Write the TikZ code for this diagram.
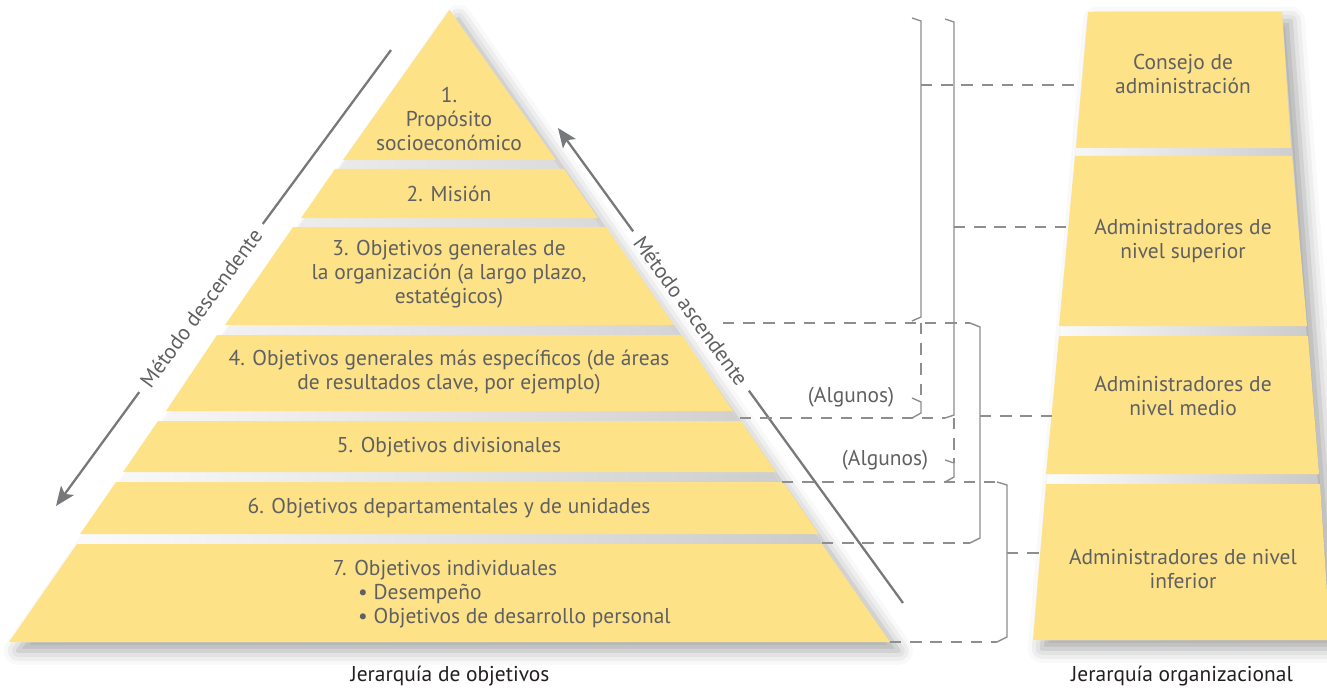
\documentclass[tikz,border=0pt]{standalone}
\usepackage{fontspec}
\setmainfont{PT Sans}
\usetikzlibrary{arrows.meta,shadows.blur}

\definecolor{piryel}{HTML}{FDE288}
\definecolor{txtgray}{HTML}{5F6062}
\definecolor{lngray}{HTML}{8E8E8E}
\definecolor{arrgray}{HTML}{77787B}
\definecolor{capblack}{HTML}{231F20}

\begin{document}
\begin{tikzpicture}[x=0.02cm, y=-0.02cm, font=\fontsize{12.2}{13.7}\selectfont]
\tikzset{
  lvl/.style={fill=piryel},
  bgd/.style={left color=white, middle color=black!20, right color=black!22,
    blur shadow={shadow xshift=5pt, shadow yshift=-5pt, shadow blur radius=8pt, shadow opacity=35}},
  txt/.style={text=txtgray, align=center},
  captxt/.style={text=capblack},
  brk/.style={draw=lngray, line width=0.8pt},
  dsh/.style={draw=lngray, line width=0.8pt, dash pattern=on 6.5pt off 5pt},
  arr/.style={draw=arrgray, line width=1.3pt},
  arrh/.style={arr, -{Stealth[length=11pt, width=9pt, inset=2.5pt]}}}

\useasboundingbox (0,0) rectangle (1327,689);

% ---------------- pyramid: hierarchy of objectives ----------------
\path[bgd] (449.5,10) -- (890,642) -- (9,642) -- cycle;
\fill[lvl] (449.5,10) -- (556,160) -- (343,160) -- cycle;
\fill[lvl] (335,169) -- (564,169) -- (598,218) -- (301,218) -- cycle;
\fill[lvl] (293,227) -- (606,227) -- (674,325) -- (225,325) -- cycle;
\fill[lvl] (217,335) -- (682,335) -- (733,411) -- (166,411) -- cycle;
\fill[lvl] (158,421) -- (741,421) -- (776,472) -- (123,472) -- cycle;
\fill[lvl] (116,482) -- (783,482) -- (819,534) -- (80,534) -- cycle;
\fill[lvl] (77,544) -- (822,544) -- (890,642) -- (9,642) -- cycle;

\node[txt] (lv1) at (449,119) {1.\\Propósito\\socioeconómico};
\node[txt] (lv2) at (449,194) {2. Misión};
\node[txt] (lv3) at (449,274) {3. Objetivos generales de\\la organización (a largo plazo,\\estatégicos)};
\node[txt] (lv4) at (449,372) {4. Objetivos generales más específicos (de áreas\\de resultados clave, por ejemplo)};
\node[txt] (lv5) at (449,447) {5. Objetivos divisionales};
\node[txt] (lv6) at (449,508) {6. Objetivos departamentales y de unidades};
\node[txt] (lv7) at (445,570) {7. Objetivos individuales};
\node[txt, align=left, anchor=west] (lv7b) at (352,606) {• Desempeño\\• Objetivos de desarrollo personal};

\node[captxt] (capobj) at (450,676) {Jerarquía de objetivos};

% ---------------- top-down and bottom-up arrows ----------------
\coordinate (des-s) at (391,50);
\coordinate (des-e) at (56,506);
\node[txt, rotate=53.7, inner sep=5pt] (des) at (201,308) {Método descendente};
\draw[arr] (des-s) -- (des.east);
\draw[arrh] (des.west) -- (des-e);

\coordinate (asc-s) at (903,603);
\coordinate (asc-e) at (558,128);
\node[txt, rotate=-54, inner sep=5pt] (asc) at (691,311) {Método ascendente};
\draw[arr] (asc-s) -- (asc.east);
\draw[arrh] (asc.west) -- (asc-e);

% ---------------- column: organizational hierarchy ----------------
\path[bgd] (1088,12) -- (1282,12) -- (1330,640) -- (1033,640) -- cycle;
\fill[lvl] (1088,12) -- (1282,12) -- (1291,148) -- (1076,148) -- cycle;
\fill[lvl] (1075,156) -- (1292,156) -- (1307,326) -- (1059,326) -- cycle;
\fill[lvl] (1059,336) -- (1308,336) -- (1319,474) -- (1046,474) -- cycle;
\fill[lvl] (1046,484) -- (1320,484) -- (1330,640) -- (1033,640) -- cycle;

\node[txt] (org1) at (1183,74) {Consejo de\\administración};
\node[txt] (org2) at (1183,241) {Administradores de\\nivel superior};
\node[txt] (org3) at (1183,396) {Administradores de\\nivel medio};
\node[txt] (org4) at (1183,569) {Administradores de nivel\\inferior};

\node[captxt] (caporg) at (1182,676) {Jerarquía organizacional};

% ---------------- brackets ----------------
\draw[brk] (912,18) -- (921,21) -- (921,85) coordinate (a-mid) -- (921,317) -- (912,321);
\draw[brk] (945,19) -- (954,22) -- (954,227) coordinate (b-mid) -- (954,415) -- (945,418) coordinate (b-bot);
\draw[brk] (970,323) coordinate (c-top) -- (980,327) -- (980,416) coordinate (c-mid) -- (980,538) -- (970,543) coordinate (c-bot);
\draw[brk] (912,398) -- (921,402) coordinate (d-top) -- (921,413) -- (912,418);
\draw[brk] (945,460) -- (954,463) coordinate (e-top) -- (954,477) -- (945,482);
\draw[brk] (997,482) coordinate (f-top) -- (1007,485) -- (1007,553) coordinate (f-mid) -- (1007,637) -- (997,642) coordinate (f-bot);

\node[txt] (alg1) at (851,397) {(Algunos)};
\node[txt] (alg2) at (885,460) {(Algunos)};

% ---------------- dashed links ----------------
\coordinate (g34) at (723,323);
\coordinate (g45) at (740,418);
\coordinate (g56) at (782,482);
\coordinate (g67) at (822,543);
\coordinate (g7) at (890,642);
\coordinate (d-join) at (921,323);
\coordinate (e-join) at (954,418);
\coordinate (org1-l) at (1082,85);
\coordinate (org2-l) at (1068,227);
\coordinate (org3-l) at (1052,416);
\coordinate (org4-l) at (1040,553);

\draw[dsh] (g34) -- (c-top);
\draw[dsh] (g45) -- (b-bot);
\draw[dsh] (g56) -- (f-top);
\draw[dsh] (g67) -- (c-bot);
\draw[dsh] (g7) -- (f-bot);
\draw[dsh] (d-join) -- (d-top);
\draw[dsh] (e-join) -- (e-top);
\draw[dsh] (a-mid) -- (org1-l);
\draw[dsh] (b-mid) -- (org2-l);
\draw[dsh] (c-mid) -- (org3-l);
\draw[dsh] (f-mid) -- (org4-l);
\end{tikzpicture}
\end{document}
